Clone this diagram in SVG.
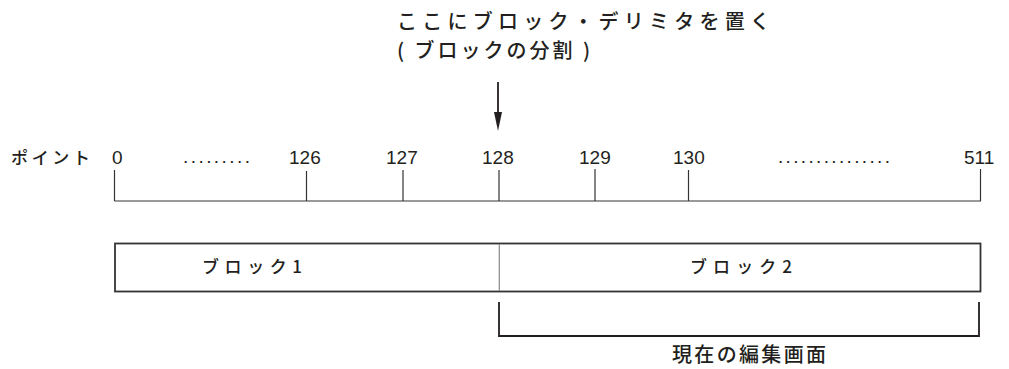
<svg xmlns="http://www.w3.org/2000/svg" width="1009" height="369" viewBox="0 0 1009 369">
<style>
text{font-family:"Noto Sans CJK JP","Liberation Sans",sans-serif;fill:#231f20;font-weight:500}
.num{font-family:"Liberation Sans",sans-serif;font-size:19px;font-weight:400}
.jp{font-size:17px}
.ttl{font-size:20px}
.tick{stroke:#333;stroke-width:1.2}
.base{stroke:#777;stroke-width:1.6}
</style>
<g id="title">
<text class="ttl" x="397" y="29" textLength="373" lengthAdjust="spacing">ここにブロック・デリミタを置く</text>
<text class="ttl" x="397" y="58" textLength="193" lengthAdjust="spacing">( ブロックの分割 )</text>
</g>
<g id="timeline">
<text class="jp" x="11" y="164" textLength="79" lengthAdjust="spacing">ポイント</text>
<text class="num" x="112" y="164">0</text>
<text class="num" x="183" y="163" textLength="67" lengthAdjust="spacing">.........</text>
<text class="num" x="289" y="164">126</text>
<text class="num" x="386" y="164">127</text>
<text class="num" x="482" y="164">128</text>
<text class="num" x="579" y="164">129</text>
<text class="num" x="673" y="164">130</text>
<text class="num" x="778" y="163" textLength="112" lengthAdjust="spacing">...............</text>
<text class="num" x="964" y="164">511</text>
<line class="base" x1="114.5" y1="201" x2="981" y2="201"/>
<line class="tick" x1="114.5" y1="170" x2="114.5" y2="201"/>
<line class="tick" x1="306.5" y1="171" x2="306.5" y2="201"/>
<line class="tick" x1="403" y1="170" x2="403" y2="201"/>
<line class="tick" x1="499" y1="170" x2="499" y2="201"/>
<line class="tick" x1="595" y1="169" x2="595" y2="201"/>
<line class="tick" x1="688.5" y1="170" x2="688.5" y2="201"/>
<line class="tick" x1="980.5" y1="169" x2="980.5" y2="201"/>
</g>
<g id="blocks">
<rect x="115" y="243.5" width="865.5" height="48" fill="none" stroke="#333" stroke-width="1.8"/>
<line x1="499.3" y1="244" x2="499.3" y2="291" stroke="#888" stroke-width="1.2"/>
</g>
<g id="block1"><text class="jp" x="202" y="273" textLength="100" lengthAdjust="spacing">ブロック1</text></g>
<g id="block2"><text class="jp" x="690" y="273" textLength="102" lengthAdjust="spacing">ブロック2</text></g>
<g id="editscreen">
<path d="M499,302 V336 H979 V302" fill="none" stroke="#231f20" stroke-width="1.8"/>
<text x="672" y="362" font-size="20" textLength="154" lengthAdjust="spacing">現在の編集画面</text>
</g>
<g id="connectors">
<line x1="498" y1="82" x2="498" y2="114" stroke="#231f20" stroke-width="1.8"/>
<path d="M494,112 L502,112 L498,131 Z" fill="#231f20"/>
</g>
</svg>
